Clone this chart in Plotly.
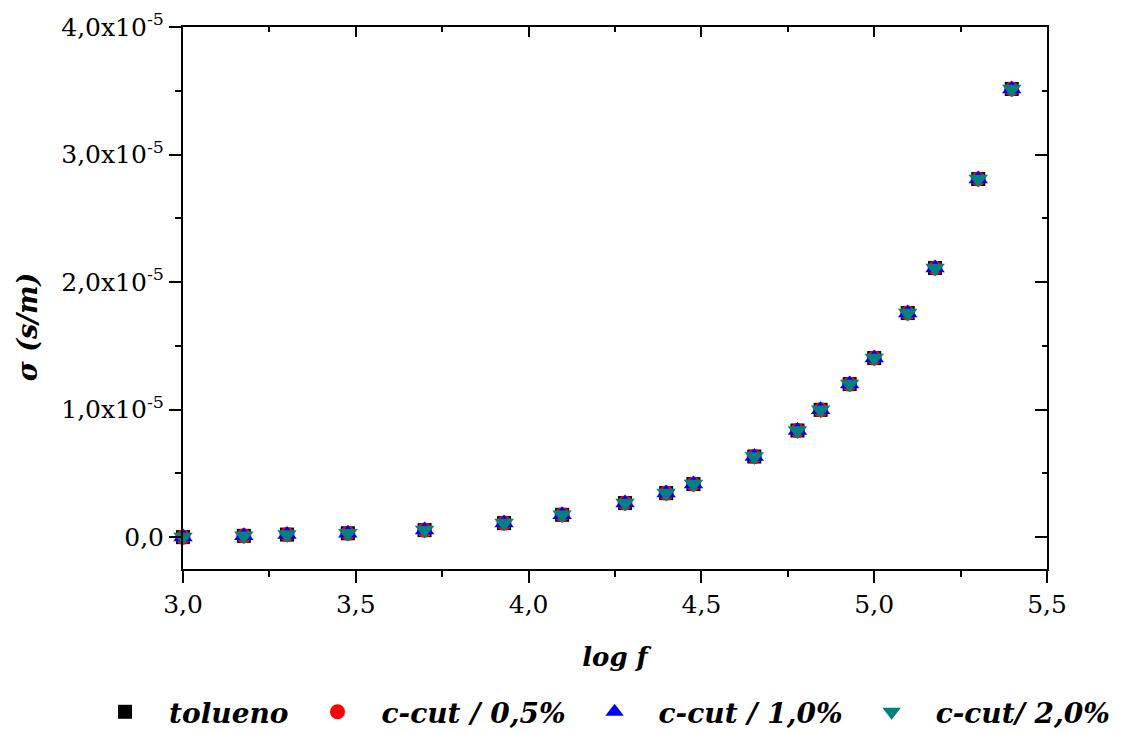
import plotly.graph_objects as go

log_f = [3.0, 3.176, 3.301, 3.477, 3.699, 3.929, 4.097, 4.279, 4.398, 4.477,
         4.653, 4.778, 4.845, 4.929, 5.0, 5.097, 5.176, 5.301, 5.398]

tolueno = [0.00e-5, 0.01e-5, 0.02e-5, 0.03e-5, 0.055e-5, 0.11e-5, 0.175e-5, 0.267e-5, 0.345e-5, 0.416e-5,
           0.632e-5, 0.836e-5, 0.998e-5, 1.20e-5, 1.404e-5, 1.757e-5, 2.11e-5, 2.808e-5, 3.514e-5]
ccut_05 = [0.00e-5, 0.01e-5, 0.02e-5, 0.03e-5, 0.055e-5, 0.11e-5, 0.175e-5, 0.267e-5, 0.345e-5, 0.416e-5,
           0.632e-5, 0.836e-5, 0.998e-5, 1.20e-5, 1.404e-5, 1.757e-5, 2.11e-5, 2.808e-5, 3.514e-5]
ccut_10 = [0.00e-5, 0.01e-5, 0.02e-5, 0.03e-5, 0.055e-5, 0.11e-5, 0.175e-5, 0.267e-5, 0.345e-5, 0.416e-5,
           0.632e-5, 0.836e-5, 0.998e-5, 1.20e-5, 1.404e-5, 1.757e-5, 2.11e-5, 2.808e-5, 3.514e-5]
ccut_20 = [0.00e-5, 0.01e-5, 0.02e-5, 0.03e-5, 0.055e-5, 0.11e-5, 0.175e-5, 0.267e-5, 0.345e-5, 0.416e-5,
           0.632e-5, 0.836e-5, 0.998e-5, 1.20e-5, 1.404e-5, 1.757e-5, 2.11e-5, 2.808e-5, 3.514e-5]

series_names = ["tolueno", "c-cut / 0,5%", "c-cut / 1,0%", "c-cut/ 2,0%"]
series_data = [tolueno, ccut_05, ccut_10, ccut_20]
symbols = ["square", "circle", "triangle-up", "triangle-down"]
colors = ["#000000", "#ff0000", "#0000ff", "#008080"]
sizes = [14, 15, 17, 17]

x_tickvals = [3.0, 3.5, 4.0, 4.5, 5.0, 5.5]
x_ticktext = ["3,0", "3,5", "4,0", "4,5", "5,0", "5,5"]
y_tickvals = [0, 1e-5, 2e-5, 3e-5, 4e-5]
y_ticktext = ["0,0", "1,0x10<sup>-5</sup>", "2,0x10<sup>-5</sup>",
              "3,0x10<sup>-5</sup>", "4,0x10<sup>-5</sup>"]

XR = [3.0, 5.5]
YR = [-0.25e-5, 4.0e-5]
FONT = "DejaVu Serif"

fig = go.Figure()
for name, data, sym, col, sz in zip(series_names, series_data, symbols, colors, sizes):
    fig.add_trace(go.Scatter(
        x=log_f, y=data, mode="markers", name=name,
        marker=dict(symbol=sym, color=col, size=sz, line=dict(width=0)),
        cliponaxis=False,
    ))

# empty trace so the mirrored (top/right) axes are drawn
fig.add_trace(go.Scatter(x=[], y=[], xaxis="x2", yaxis="y2", showlegend=False,
                         hoverinfo="skip", mode="markers"))

axis_common = dict(showline=True, linecolor="black", linewidth=2, showgrid=False,
                   zeroline=False, tickcolor="black", tickwidth=2)

fig.update_layout(
    width=1122, height=733,
    margin=dict(l=183, r=75, t=27, b=164, autoexpand=False),
    plot_bgcolor="white", paper_bgcolor="white",
    font=dict(family=FONT, size=25, color="black"),
    xaxis=dict(range=XR, tickvals=x_tickvals, ticktext=x_ticktext,
               ticks="outside", ticklen=12,
               minor=dict(dtick=0.25, tick0=3.0, ticks="outside", ticklen=6,
                          tickwidth=2, tickcolor="black"),
               title=dict(text="log f", standoff=30,
                          font=dict(size=26, weight="bold", style="italic")),
               **axis_common),
    yaxis=dict(range=YR, tickvals=y_tickvals, ticktext=y_ticktext,
               ticks="outside", ticklen=12,
               minor=dict(dtick=0.5e-5, tick0=0, ticks="outside", ticklen=6,
                          tickwidth=2, tickcolor="black"),
               **axis_common),
    xaxis2=dict(range=XR, overlaying="x", side="top", anchor="y",
                tickvals=x_tickvals, showticklabels=False,
                ticks="inside", ticklen=10,
                minor=dict(dtick=0.25, tick0=3.0, ticks="inside", ticklen=5,
                           tickwidth=2, tickcolor="black"),
                **axis_common),
    yaxis2=dict(range=YR, overlaying="y", side="right", anchor="x",
                tickvals=y_tickvals, showticklabels=False,
                ticks="inside", ticklen=12,
                minor=dict(dtick=0.5e-5, tick0=0, ticks="inside", ticklen=5,
                           tickwidth=2, tickcolor="black"),
                **axis_common),
    legend=dict(orientation="h", x=-0.118, xanchor="left",
                y=-0.264, yanchor="middle",
                font=dict(size=28, weight="bold", style="italic"),
                itemwidth=78, bgcolor="rgba(0,0,0,0)"),
    showlegend=True,
    annotations=[dict(text="σ (s/m)", textangle=-90, xref="paper", yref="paper",
                      x=-0.1806, y=0.448, xanchor="center", yanchor="middle",
                      showarrow=False,
                      font=dict(size=27, weight="bold", style="italic"))],
)

fig.write_html("out.html")
